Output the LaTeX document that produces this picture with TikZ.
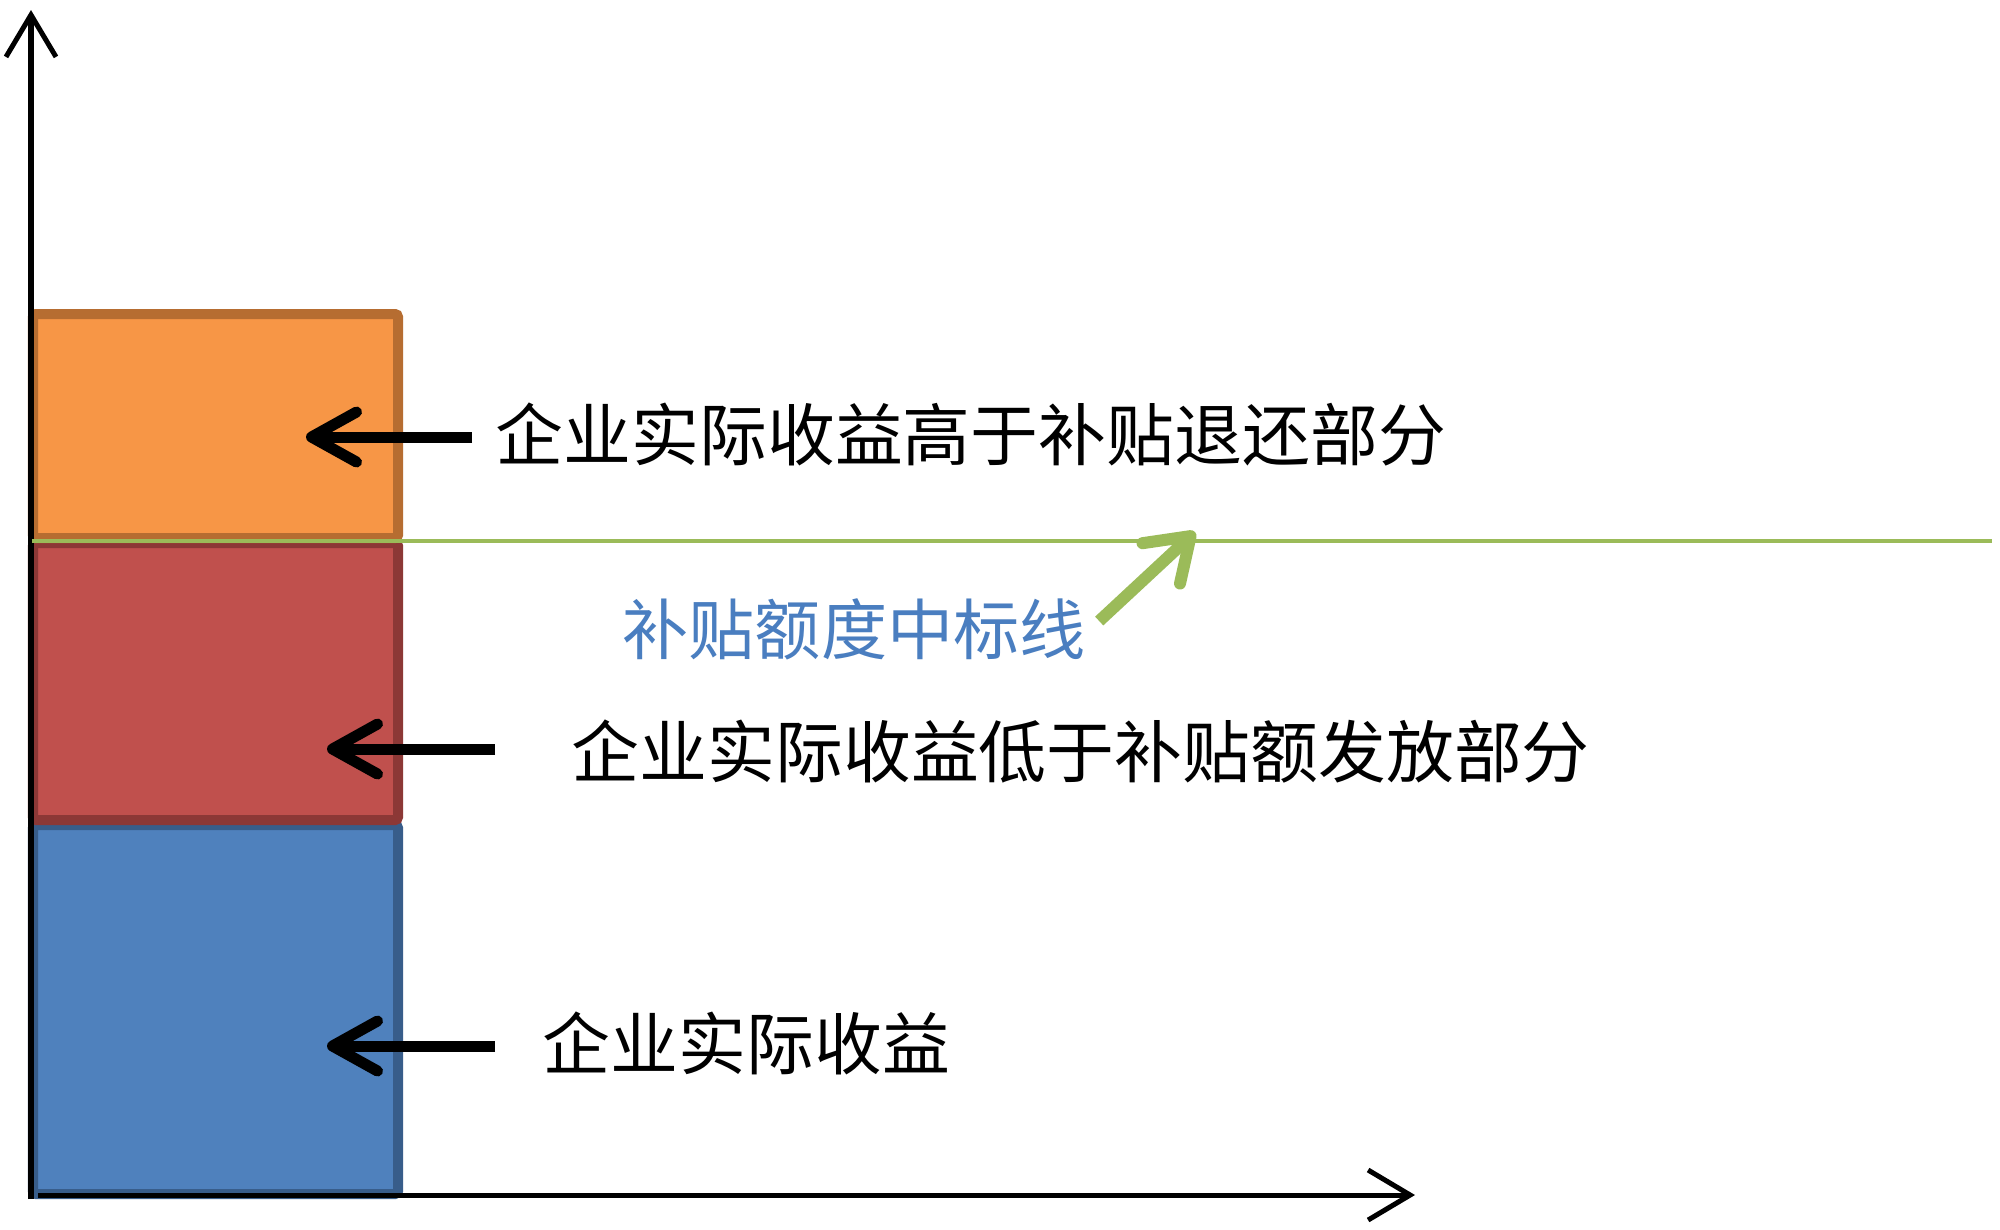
\documentclass[tikz,border=0pt]{standalone}
\usepackage{fontspec}
\newfontfamily\cjk{Noto Sans CJK SC}
\usetikzlibrary{arrows.meta}
\definecolor{orfill}{HTML}{F79646}
\definecolor{ordraw}{HTML}{B66D31}
\definecolor{rdfill}{HTML}{C0504D}
\definecolor{rddraw}{HTML}{8C3836}
\definecolor{blfill}{HTML}{4F81BD}
\definecolor{bldraw}{HTML}{385D8A}
\definecolor{midgreen}{HTML}{9BBB59}
\definecolor{labelblue}{HTML}{4A7EC0}
\begin{document}
\begin{tikzpicture}[x=0.01cm,y=-0.01cm,
 bar/.style={line width=0.1cm, rounded corners=0.03cm},
 axis/.style={line width=0.05cm, -{Straight Barb[length=0.42cm,width=0.5cm]}},
 pointer/.style={line width=0.11cm, -{Straight Barb[length=0.45cm,width=0.5cm,round]}},
 greenptr/.style={midgreen, line width=0.12cm, -{Straight Barb[length=0.4cm,width=0.55cm,round]}},
 lbl/.style={font=\cjk\fontsize{19.3}{23}\selectfont, anchor=west, inner sep=0pt},
 ]
\useasboundingbox (0,0) rectangle (2000,1229);
\fill[white] (0,0) rectangle (2000,1229);
% stacked bars
\draw[bar, fill=blfill, draw=bldraw] (33,825) rectangle (398,1194);
\draw[bar, fill=rdfill, draw=rddraw] (33,543) rectangle (398,820);
\draw[bar, fill=orfill, draw=ordraw] (33,314) rectangle (398,538);
% axes
\coordinate (ybot) at (31,1199);
\coordinate (ytop) at (31,10);
\coordinate (xbeg) at (38,1195);
\coordinate (xend) at (1415,1195);
\draw[axis] (ybot) -- (ytop);
\draw[axis] (xbeg) -- (xend);
% mid line
\coordinate (gl) at (32,541);
\coordinate (gr) at (1992,541);
\draw[midgreen, line width=0.045cm] (gl) -- (gr);
% labels
\node[lbl] (otext) at (495,434) {企业实际收益高于补贴退还部分};
\node[lbl] (rtext) at (571,752) {企业实际收益低于补贴额发放部分};
\node[lbl] (btext) at (542,1043) {企业实际收益};
\node[lbl, text=labelblue, font=\cjk\fontsize{18.8}{22}\selectfont] (gtext) at (622,629) {补贴额度中标线};
% pointers
\coordinate (otip) at (306,437);
\coordinate (rtip) at (327,749);
\coordinate (btip) at (327,1046);
\coordinate (gtip) at (1195,532);
\draw[pointer] ([shift={(-23,3)}]otext.west) -- (otip);
\draw[pointer] ([shift={(-76,-3)}]rtext.west) -- (rtip);
\draw[pointer] ([shift={(-47,3)}]btext.west) -- (btip);
\draw[greenptr] ([shift={(13,-8)}]gtext.east) -- (gtip);
\end{tikzpicture}
\end{document}
